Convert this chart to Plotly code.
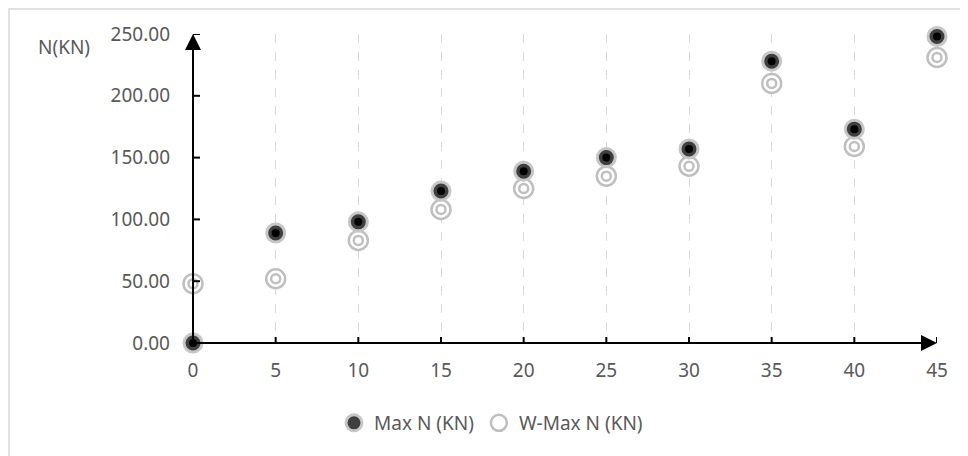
import plotly.graph_objects as go

x_vals = [0, 5, 10, 15, 20, 25, 30, 35, 40, 45]
max_n = [0, 89, 98, 123, 139, 150, 157, 228, 173, 248]
w_max_n = [48, 52, 83, 108, 125, 135, 143, 210, 159, 231]
x_ticks = [0, 5, 10, 15, 20, 25, 30, 35, 40, 45]
y_ticks = [0, 50, 100, 150, 200, 250]

FONT = "Noto Sans"
GREY = "#595959"
FS = 19

fig = go.Figure()

# W-Max N: outer ring (legend) + inner ring
fig.add_trace(go.Scatter(
    x=x_vals, y=w_max_n, mode="markers", name="W-Max N (KN)",
    marker=dict(symbol="circle", size=19, color="white",
                line=dict(color="#bfbfbf", width=2.5)),
    cliponaxis=False, legendrank=2))
fig.add_trace(go.Scatter(
    x=x_vals, y=w_max_n, mode="markers", showlegend=False,
    marker=dict(symbol="circle", size=9, color="white",
                line=dict(color="#bfbfbf", width=2.5)),
    cliponaxis=False, hoverinfo="skip"))

# Max N: dark disc with light halo + black centre
fig.add_trace(go.Scatter(
    x=x_vals, y=max_n, mode="markers", name="Max N (KN)",
    marker=dict(symbol="circle", size=18, color="#3f3f3f",
                line=dict(color="#c6c6c6", width=3)),
    cliponaxis=False, legendrank=1))
fig.add_trace(go.Scatter(
    x=x_vals, y=max_n, mode="markers", showlegend=False,
    marker=dict(symbol="circle", size=8, color="black"),
    cliponaxis=False, hoverinfo="skip"))

shapes = []
# crossing tick marks
for t in x_ticks[1:]:
    shapes.append(dict(type="line", xref="x", yref="y", x0=t, x1=t,
                       ysizemode="pixel", yanchor=0, y0=-6, y1=6,
                       line=dict(color="black", width=2), layer="above"))
for t in y_ticks[1:]:
    shapes.append(dict(type="line", xref="x", yref="y", y0=t, y1=t,
                       xsizemode="pixel", xanchor=0, x0=-7, x1=7,
                       line=dict(color="black", width=2), layer="above"))
# chart area border (left + top)
shapes.append(dict(type="rect", xref="paper", yref="paper",
                   x0=(9 - 193) / 744, x1=1.2, y0=-0.5, y1=(343 - 9) / 309,
                   line=dict(color="#d9d9d9", width=1.5), layer="below"))

annotations = [
    dict(x=45, y=0, ax=0, ay=0, xref="x", yref="y", axref="x", ayref="y",
         text="", showarrow=True, arrowhead=2, arrowsize=1.6, arrowwidth=2,
         arrowcolor="black", standoff=0),
    dict(x=0, y=250, ax=0, ay=0, xref="x", yref="y", axref="x", ayref="y",
         text="", showarrow=True, arrowhead=2, arrowsize=1.6, arrowwidth=2,
         arrowcolor="black", standoff=0),
    dict(x=(64 - 193) / 744, y=(343 - 47) / 309, xref="paper", yref="paper",
         xanchor="center", yanchor="middle",
         text="N(KN)", showarrow=False, font=dict(family=FONT, size=FS, color=GREY)),
]

fig.update_layout(
    width=960, height=448,
    margin=dict(l=185, r=31, t=26, b=113),
    paper_bgcolor="white", plot_bgcolor="white",
    font=dict(family=FONT, size=FS, color=GREY),
    xaxis=dict(range=[0, 45], tickvals=x_ticks, ticktext=[str(t) for t in x_ticks],
               showgrid=True, gridcolor="#d9d9d9", griddash="dash", gridwidth=1,
               zeroline=False, showline=False, ticks="", ticklabelstandoff=14,
               tickfont=dict(family=FONT, size=FS, color=GREY), fixedrange=True),
    yaxis=dict(range=[0, 250], tickvals=y_ticks, tickformat=".2f",
               showgrid=False, zeroline=False, showline=False, ticks="",
               ticklabelstandoff=22,
               tickfont=dict(family=FONT, size=FS, color=GREY), fixedrange=True),
    legend=dict(orientation="h", x=(491 - 193) / 744, xanchor="center",
                y=(343 - 423) / 309, yanchor="middle",
                font=dict(family=FONT, size=FS, color=GREY),
                itemwidth=30, tracegroupgap=0),
    shapes=shapes, annotations=annotations, showlegend=True,
)

fig.write_html("out.html")
